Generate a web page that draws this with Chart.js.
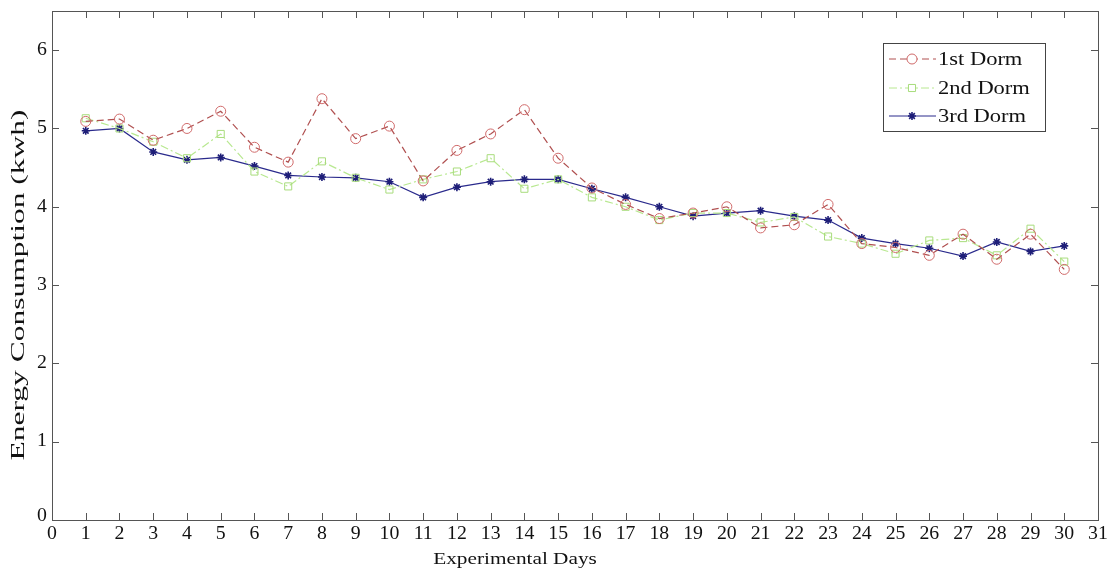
<!DOCTYPE html>
<html>
<head>
<meta charset="utf-8">
<script src="https://cdn.jsdelivr.net/npm/chart.js@4.4.0/dist/chart.umd.min.js"></script>
<style>
html,body{margin:0;padding:0;background:#fff;}
#wrap{width:1107px;height:571px;position:relative;}
</style>
</head>
<body>
<div id="wrap"><canvas id="c" width="1107" height="571"></canvas></div>
<script>
const days = [1,2,3,4,5,6,7,8,9,10,11,12,13,14,15,16,17,18,19,20,21,22,23,24,25,26,27,28,29,30];
const dorm1 = [5.09,5.12,4.85,5.00,5.22,4.76,4.57,5.38,4.87,5.03,4.33,4.72,4.93,5.24,4.62,4.24,4.03,3.85,3.92,4.00,3.73,3.77,4.03,3.53,3.48,3.38,3.65,3.33,3.65,3.20];
const dorm2 = [5.13,5.00,4.83,4.62,4.93,4.45,4.26,4.58,4.37,4.22,4.35,4.45,4.62,4.23,4.35,4.12,4.00,3.83,3.92,3.92,3.80,3.87,3.62,3.53,3.40,3.57,3.60,3.38,3.72,3.30];
const dorm3 = [4.97,5.00,4.70,4.60,4.63,4.52,4.40,4.38,4.37,4.32,4.12,4.25,4.32,4.35,4.35,4.23,4.12,4.00,3.88,3.92,3.95,3.88,3.83,3.60,3.53,3.47,3.37,3.55,3.43,3.50];
const seriesNames = ['1st Dorm','2nd Dorm','3rd Dorm'];
const xTicks = [0,1,2,3,4,5,6,7,8,9,10,11,12,13,14,15,16,17,18,19,20,21,22,23,24,25,26,27,28,29,30,31];
const yTicks = [0,1,2,3,4,5,6];
const xTitle = 'Experimental Days';
const yTitle = 'Energy Consumption (kwh)';

const FONT = "'Liberation Serif','DejaVu Serif',serif";
const toPts = arr => arr.map((v,i)=>({x:days[i],y:v}));

const styles = [
  {line:'#b05050', pt:'#d06a6a', dash:[7,4], ps:'circle', r:5, bw:1},
  {line:'#b8e890', pt:'#a8dc7c', dash:[8,3,2,3], ps:'rect', r:5, bw:1},
  {line:'#2a2a8c', pt:'#1e1e78', dash:[], ps:'star', r:4, bw:1.6}
];
const series = [dorm1,dorm2,dorm3];

function stretchedText(ctx, text, x, y, sx, sy, rot){
  ctx.save();
  ctx.translate(x,y);
  if(rot) ctx.rotate(rot);
  ctx.scale(sx,sy);
  ctx.fillText(text,0,0);
  ctx.restore();
}

const frame = {
  id:'frame',
  afterDraw(chart){
    const {ctx, chartArea:a, scales:{x,y}} = chart;
    ctx.save();
    ctx.strokeStyle = '#555';
    ctx.lineWidth = 1;
    ctx.strokeRect(a.left+0.5, a.top+0.5, a.right-a.left, a.bottom-a.top);
    const L = 7;
    ctx.beginPath();
    x.ticks.forEach(t=>{
      const px = Math.round(x.getPixelForValue(t.value))+0.5;
      ctx.moveTo(px,a.bottom); ctx.lineTo(px,a.bottom-L);
      ctx.moveTo(px,a.top); ctx.lineTo(px,a.top+L);
    });
    y.ticks.forEach(t=>{
      const py = Math.round(y.getPixelForValue(t.value))+0.5;
      ctx.moveTo(a.left,py); ctx.lineTo(a.left+L,py);
      ctx.moveTo(a.right,py); ctx.lineTo(a.right-L,py);
    });
    ctx.stroke();

    // tick labels
    ctx.fillStyle='#111';
    ctx.font="18px "+FONT;
    ctx.textAlign='center';
    ctx.textBaseline='top';
    x.ticks.forEach(t=>{
      stretchedText(ctx,String(t.value),x.getPixelForValue(t.value),a.bottom+5,1.1,1,0);
    });
    ctx.textAlign='right';
    ctx.textBaseline='middle';
    y.ticks.forEach(t=>{
      const py=y.getPixelForValue(t.value);
      stretchedText(ctx,String(t.value),a.left-5,t.value===0?py-4:py,1.1,1,0);
    });

    // axis titles
    ctx.font="16px "+FONT;
    ctx.textAlign='center';
    ctx.textBaseline='middle';
    stretchedText(ctx,xTitle,515,560,1.33,1.0,0);
    ctx.font="18px "+FONT;
    stretchedText(ctx,yTitle,19,285,1.75,1.0,-Math.PI/2);

    // legend
    const bx=883, by=43, bw=162, bh=88;
    ctx.fillStyle='#fff';
    ctx.fillRect(bx,by,bw,bh);
    ctx.strokeStyle='#444';
    ctx.lineWidth=1;
    ctx.strokeRect(bx+0.5,by+0.5,bw,bh);
    const rows=[59,88,116];
    seriesNames.forEach((n,i)=>{
      const s=styles[i];
      ctx.save();
      ctx.strokeStyle=s.line; ctx.lineWidth=1; ctx.setLineDash(s.dash);
      ctx.beginPath(); ctx.moveTo(889,rows[i]); ctx.lineTo(936,rows[i]); ctx.stroke();
      ctx.setLineDash([]);
      ctx.strokeStyle=s.pt;
      ctx.fillStyle= i===2 ? s.pt : '#fff';
      ctx.lineWidth=s.bw;
      Chart.helpers.drawPoint(ctx,{pointStyle:s.ps,radius:s.r,borderWidth:s.bw,rotation:0},912,rows[i]);
      ctx.restore();
      ctx.fillStyle='#111';
      ctx.font="18px "+FONT;
      ctx.textAlign='left';
      ctx.textBaseline='middle';
      stretchedText(ctx,n,938,rows[i]+1,1.25,1,0);
    });
    ctx.restore();
  }
};

new Chart(document.getElementById('c'),{
  type:'line',
  data:{datasets: series.map((d,i)=>({
    label:seriesNames[i],
    data:toPts(d),
    borderColor:styles[i].line,
    borderWidth:1.2,
    borderDash:styles[i].dash,
    pointStyle:styles[i].ps,
    pointRadius:styles[i].r,
    pointBorderColor:styles[i].pt,
    pointBackgroundColor: i===2 ? styles[i].pt : 'rgba(0,0,0,0)',
    pointBorderWidth:styles[i].bw,
    tension:0,
    fill:false
  }))},
  options:{
    responsive:false,
    animation:false,
    layout:{padding:{top:11,right:9,left:0,bottom:0}},
    plugins:{legend:{display:false},tooltip:{enabled:false}},
    scales:{
      x:{type:'linear',min:0,max:31,
        afterBuildTicks:s=>{s.ticks=xTicks.map(v=>({value:v}));},
        afterFit:s=>{s.height=51;},
        grid:{display:false,drawTicks:false},border:{display:false},
        ticks:{display:false}
      },
      y:{type:'linear',min:0,max:6.5,
        afterBuildTicks:s=>{s.ticks=yTicks.map(v=>({value:v}));},
        afterFit:s=>{s.width=52;},
        grid:{display:false,drawTicks:false},border:{display:false},
        ticks:{display:false}
      }
    }
  },
  plugins:[frame]
});
</script>
</body>
</html>
